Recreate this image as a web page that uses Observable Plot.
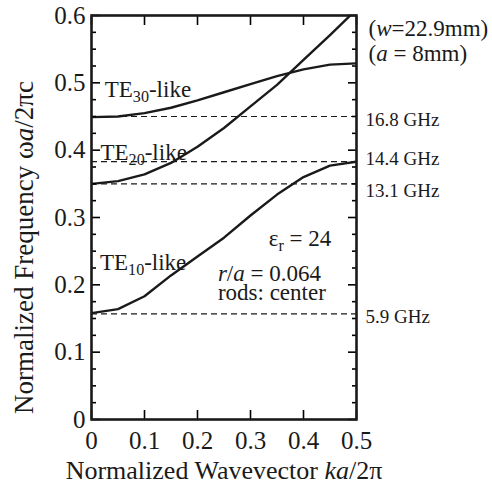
<!DOCTYPE html>
<html><head><meta charset="utf-8">
<script src="https://cdn.jsdelivr.net/npm/d3@7"></script>
<script src="https://cdn.jsdelivr.net/npm/@observablehq/plot@0.6"></script>
<style>
body{margin:0;background:#fff;}
svg, svg text{font-family:"Liberation Serif","Times New Roman",serif !important;}
</style>
</head><body><div id="chart"></div>
<script>
// wavevector samples (ka/2π)
const kValues = [0, 0.05, 0.1, 0.15, 0.2, 0.25, 0.3, 0.35, 0.4, 0.45, 0.5];
// normalized frequency ωa/2πc of the three bands
const te10 = [0.158, 0.164, 0.183, 0.214, 0.242, 0.270, 0.303, 0.334, 0.360, 0.377, 0.383];
const te20 = [0.350, 0.354, 0.364, 0.381, 0.405, 0.433, 0.465, 0.497, 0.534, 0.571, 0.609];
const te30 = [0.449, 0.450, 0.455, 0.463, 0.474, 0.486, 0.498, 0.510, 0.520, 0.527, 0.529];
// cut-off frequencies (dashed lines)
const cutoffs = [0.157, 0.35, 0.383, 0.45];
const cutoffLabels = ["5.9 GHz", "13.1 GHz", "14.4 GHz", "16.8 GHz"];
// ticks
const xTicks = [0, 0.1, 0.2, 0.3, 0.4, 0.5];
const yTicks = [0, 0.1, 0.2, 0.3, 0.4, 0.5, 0.6];
const yMinorTicks = [0.025, 0.05, 0.075, 0.125, 0.15, 0.175, 0.225, 0.25, 0.275, 0.325, 0.35, 0.375, 0.425, 0.45, 0.475, 0.525, 0.55, 0.575];
// annotation texts and their anchor (in data units)
const modeLabels = ["TE_{30}-like", "TE_{20}-like", "TE_{10}-like"];
const modeLabelK = [0.025, 0.017, 0.016];
const modeLabelV = [0.479, 0.385, 0.222];
const paramLabels = ["ε_{r} = 24", "*r*/*a* = 0.064", "rods: center"];
const paramLabelK = [0.3345, 0.2385, 0.2385];
const paramLabelV = [0.257, 0.205, 0.178];
const sizeLabels = ["(*w*=22.9mm)", "(*a* = 8mm)"];
const xLabel = "Normalized Wavevector *ka*/2π";
const yLabel = "Normalized Frequency ω*a*/2πc";

const FONT = '"Liberation Serif","Times New Roman",serif';
const fmt = d => d === 0 ? "0" : String(d);
const bands = [te10, te20, te30];
const ink = "#1a1a1a";

const marks = [
  Plot.ruleY(cutoffs, {stroke: ink, strokeWidth: 1.2, strokeDasharray: "6,4"}),
  ...bands.map(b => Plot.line(b, {x: (d, i) => kValues[i], y: d => d, stroke: ink, strokeWidth: 2.4, clip: true})),
  // tick labels
  Plot.axisX(xTicks, {anchor: "bottom", tickSize: 0, tickPadding: 12, fontSize: 25, fontFamily: FONT, tickFormat: fmt, label: null, fill: ink}),
  Plot.axisY(yTicks, {anchor: "left", tickSize: 0, tickPadding: 6, fontSize: 25, fontFamily: FONT, tickFormat: fmt, label: null, fill: ink}),
  // inward ticks
  Plot.axisX(xTicks, {anchor: "bottom", tickSize: -9, tickFormat: () => "", label: null, strokeWidth: 1.6}),
  Plot.axisX(xTicks, {anchor: "top", tickSize: -9, tickFormat: () => "", label: null, strokeWidth: 1.6}),
  Plot.axisY(yTicks, {anchor: "left", tickSize: -9, tickFormat: () => "", label: null, strokeWidth: 1.6}),
  Plot.axisY(yTicks, {anchor: "right", tickSize: -9, tickFormat: () => "", label: null, strokeWidth: 1.6}),
  Plot.axisY(yMinorTicks, {anchor: "left", tickSize: -5, tickFormat: () => "", label: null, strokeWidth: 1.6}),
  Plot.axisY(yMinorTicks, {anchor: "right", tickSize: -5, tickFormat: () => "", label: null, strokeWidth: 1.6}),
  Plot.frame({stroke: ink, strokeWidth: 2.6}),
  // band labels
  Plot.text(modeLabels, {x: (d, i) => modeLabelK[i], y: (d, i) => modeLabelV[i], text: d => d, textAnchor: "start", lineAnchor: "bottom", fontSize: 23, fontFamily: FONT, fill: ink}),
  Plot.text(paramLabels, {x: (d, i) => paramLabelK[i], y: (d, i) => paramLabelV[i], text: d => d, textAnchor: "start", lineAnchor: "bottom", fontSize: 23, fontFamily: FONT, fill: ink}),
  // cutoff labels to the right
  ...[3, 7, -3, 3].map((dy, i) => Plot.text([cutoffLabels[i]], {y: [cutoffs[i]], text: d => d, frameAnchor: "right", dx: 9, dy: dy, textAnchor: "start", lineAnchor: "middle", fontSize: 19, fontFamily: FONT, fill: ink})),
  Plot.text([sizeLabels[0]], {text: d => d, frameAnchor: "top-right", dx: 12, dy: 20, textAnchor: "start", lineAnchor: "bottom", fontSize: 23, fontFamily: FONT, fill: ink}),
  Plot.text([sizeLabels[1]], {text: d => d, frameAnchor: "top-right", dx: 12, dy: 45, textAnchor: "start", lineAnchor: "bottom", fontSize: 23, fontFamily: FONT, fill: ink}),
  // axis titles
  Plot.text([xLabel], {text: d => d, frameAnchor: "bottom", dy: 59, textAnchor: "middle", lineAnchor: "bottom", fontSize: 26, fontFamily: FONT, fill: ink}),
  Plot.text([yLabel], {text: d => d, frameAnchor: "left", rotate: -90, dx: -59, dy: 30, textAnchor: "middle", lineAnchor: "bottom", fontSize: 27, fontFamily: FONT, fill: ink})
];

const chart = Plot.plot({
  width: 492,
  height: 486,
  marginLeft: 91,
  marginRight: 136,
  marginTop: 15,
  marginBottom: 67,
  x: {domain: [0, 0.5]},
  y: {domain: [0, 0.6]},
  style: {fontFamily: FONT, background: "#fff"},
  marks
});

// rich text: _{sub} and *italic*
const ns = "http://www.w3.org/2000/svg";
chart.querySelectorAll("text").forEach(t => {
  const s = t.textContent;
  if (!/[_*]/.test(s)) return;
  t.textContent = "";
  const re = /_\{([^}]*)\}|\*([^*]*)\*|([^_*]+)/g;
  let m, shifted = false;
  while ((m = re.exec(s))) {
    const ts = document.createElementNS(ns, "tspan");
    if (m[1] !== undefined) {
      ts.textContent = m[1];
      ts.setAttribute("style", "font-size:70%");
      ts.setAttribute("dy", "0.3em");
      shifted = true;
    } else {
      ts.textContent = m[2] !== undefined ? m[2] : m[3];
      if (m[2] !== undefined) ts.setAttribute("font-style", "italic");
      if (shifted) { ts.setAttribute("dy", "-0.21em"); shifted = false; }
    }
    t.appendChild(ts);
  }
});

document.getElementById("chart").appendChild(chart);
</script>
</body></html>
